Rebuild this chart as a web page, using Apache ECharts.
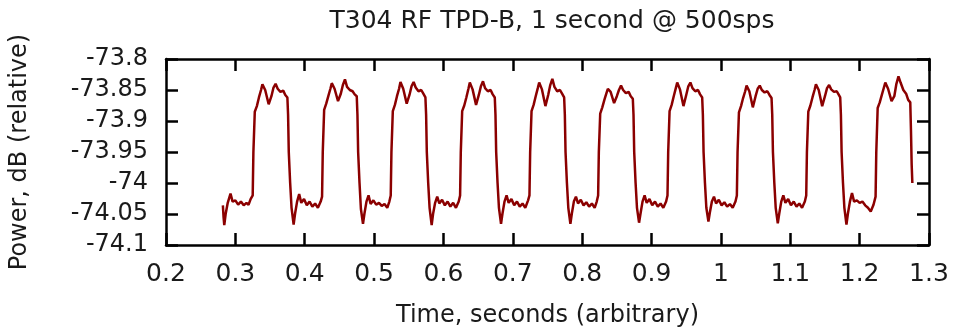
<!DOCTYPE html>
<html><head><meta charset="utf-8">
<script src="https://cdn.jsdelivr.net/npm/echarts@6/dist/echarts.min.js"></script>
<style>html,body{margin:0;padding:0;background:#fff}#c{width:956px;height:333px}</style>
</head><body><div id="c"></div>
<script>
const titleText = 'T304 RF TPD-B, 1 second @ 500sps';
const xAxisTitle = 'Time, seconds (arbitrary)';
const yAxisTitle = 'Power, dB (relative)';
const xTickLabels = ['0.2','0.3','0.4','0.5','0.6','0.7','0.8','0.9','1','1.1','1.2','1.3'];
const yTickLabels = ['-74.1','-74.05','-74','-73.95','-73.9','-73.85','-73.8'];

const sampleTime = [
0.282,0.283,0.284,0.286,0.289,0.293,0.296,0.300,0.304,0.308,0.312,0.316,0.319,0.322,0.324,
0.325,0.326,0.328,0.331,0.334,0.337,0.339,0.343,0.348,0.352,0.355,0.358,0.361,0.365,0.369,0.372,0.375,
0.376,0.377,0.379,0.381,0.384,0.386,0.389,0.392,0.395,0.399,0.403,0.407,0.411,0.415,0.419,0.423,
0.425,0.426,0.428,0.431,0.434,0.437,0.439,0.443,0.448,0.452,0.455,0.458,0.461,0.465,0.469,0.472,0.475,
0.476,0.477,0.479,0.481,0.484,0.486,0.489,0.492,0.495,0.499,0.503,0.507,0.511,0.515,0.519,0.522,
0.524,0.525,0.527,0.530,0.533,0.536,0.538,0.542,0.547,0.551,0.554,0.557,0.560,0.564,0.568,0.571,0.574,
0.575,0.576,0.578,0.580,0.583,0.585,0.588,0.591,0.594,0.598,0.602,0.606,0.610,0.614,0.618,0.622,
0.624,0.625,0.627,0.630,0.633,0.636,0.638,0.642,0.647,0.651,0.654,0.657,0.660,0.664,0.668,0.671,0.674,
0.675,0.676,0.678,0.680,0.683,0.685,0.688,0.691,0.694,0.698,0.702,0.706,0.710,0.714,0.718,0.722,
0.724,0.725,0.727,0.730,0.733,0.736,0.738,0.742,0.747,0.751,0.754,0.757,0.760,0.764,0.768,0.771,0.774,
0.775,0.776,0.778,0.780,0.783,0.785,0.788,0.791,0.794,0.798,0.802,0.806,0.810,0.814,0.818,0.821,
0.823,0.824,0.826,0.829,0.832,0.835,0.837,0.841,0.846,0.850,0.853,0.856,0.859,0.863,0.867,0.870,0.873,
0.874,0.875,0.877,0.879,0.882,0.884,0.887,0.890,0.893,0.897,0.901,0.905,0.909,0.913,0.917,0.921,
0.923,0.924,0.926,0.929,0.932,0.935,0.937,0.941,0.946,0.950,0.953,0.956,0.959,0.963,0.967,0.970,0.973,
0.974,0.975,0.977,0.979,0.982,0.984,0.987,0.990,0.993,0.997,1.001,1.005,1.009,1.013,1.017,1.021,
1.023,1.024,1.026,1.029,1.032,1.035,1.037,1.041,1.046,1.050,1.053,1.056,1.059,1.063,1.067,1.070,1.073,
1.074,1.075,1.077,1.079,1.082,1.084,1.087,1.090,1.093,1.097,1.101,1.105,1.109,1.113,1.117,1.121,
1.123,1.124,1.126,1.129,1.132,1.135,1.137,1.141,1.146,1.150,1.153,1.156,1.159,1.163,1.167,1.170,1.172,
1.173,1.174,1.176,1.178,1.181,1.183,1.186,1.189,1.192,1.196,1.200,1.204,1.208,1.212,1.216,1.220,
1.223,1.224,1.226,1.229,1.232,1.235,1.237,1.241,1.246,1.250,1.253,1.256,1.259,1.263,1.267,1.270,1.273,
1.274,1.275,1.276
];

const powerDb = [
-74.036,-74.055,-74.068,-74.05,-74.032,-74.017,-74.03,-74.028,-74.035,-74.03,-74.036,-74.032,-74.035,-74.026,-74.028,
-74.02,-73.95,-73.885,-73.876,-73.862,-73.85,-73.841,-73.85,-73.873,-73.86,-73.846,-73.84,-73.848,-73.853,-73.851,-73.858,-73.862,
-73.89,-73.95,-74.0,-74.04,-74.067,-74.05,-74.03,-74.018,-74.032,-74.026,-74.036,-74.03,-74.038,-74.033,-74.04,-74.03,
-74.022,-73.95,-73.882,-73.872,-73.86,-73.848,-73.839,-73.848,-73.868,-73.856,-73.842,-73.833,-73.845,-73.85,-73.852,-73.857,-73.86,
-73.89,-73.95,-74.0,-74.042,-74.066,-74.05,-74.03,-74.02,-74.034,-74.028,-74.035,-74.032,-74.037,-74.034,-74.04,-74.03,
-74.02,-73.95,-73.884,-73.874,-73.86,-73.848,-73.837,-73.848,-73.872,-73.858,-73.844,-73.837,-73.846,-73.852,-73.85,-73.856,-73.862,
-73.89,-73.95,-74.0,-74.04,-74.068,-74.05,-74.032,-74.022,-74.033,-74.027,-74.036,-74.03,-74.038,-74.032,-74.04,-74.03,
-74.02,-73.95,-73.884,-73.875,-73.862,-73.848,-73.838,-73.849,-73.874,-73.858,-73.844,-73.836,-73.847,-73.852,-73.85,-73.857,-73.862,
-73.89,-73.95,-74.0,-74.04,-74.066,-74.05,-74.03,-74.02,-74.032,-74.026,-74.036,-74.03,-74.038,-74.033,-74.04,-74.028,
-74.02,-73.95,-73.884,-73.874,-73.86,-73.847,-73.838,-73.849,-73.876,-73.858,-73.842,-73.832,-73.845,-73.852,-73.85,-73.856,-73.862,
-73.89,-73.95,-74.0,-74.04,-74.066,-74.05,-74.03,-74.022,-74.033,-74.027,-74.036,-74.031,-74.038,-74.033,-74.04,-74.03,
-74.02,-73.95,-73.888,-73.878,-73.866,-73.855,-73.848,-73.853,-73.871,-73.86,-73.85,-73.843,-73.85,-73.855,-73.853,-73.86,-73.864,
-73.89,-73.95,-74.0,-74.04,-74.064,-74.05,-74.03,-74.02,-74.032,-74.026,-74.036,-74.03,-74.038,-74.033,-74.04,-74.03,
-74.02,-73.95,-73.884,-73.874,-73.86,-73.847,-73.838,-73.849,-73.876,-73.858,-73.844,-73.838,-73.847,-73.852,-73.85,-73.857,-73.862,
-73.89,-73.95,-74.0,-74.04,-74.062,-74.048,-74.03,-74.022,-74.033,-74.027,-74.036,-74.031,-74.038,-74.034,-74.04,-74.03,
-74.02,-73.95,-73.886,-73.876,-73.863,-73.852,-73.843,-73.852,-73.878,-73.86,-73.848,-73.843,-73.85,-73.854,-73.852,-73.858,-73.863,
-73.89,-73.95,-74.0,-74.04,-74.065,-74.05,-74.03,-74.02,-74.032,-74.026,-74.036,-74.03,-74.038,-74.033,-74.04,-74.03,
-74.02,-73.95,-73.885,-73.875,-73.862,-73.85,-73.841,-73.85,-73.876,-73.86,-73.847,-73.842,-73.849,-73.853,-73.852,-73.858,-73.862,
-73.89,-73.95,-74.0,-74.04,-74.067,-74.05,-74.03,-74.016,-74.03,-74.028,-74.032,-74.03,-74.036,-74.04,-74.046,-74.035,
-74.022,-73.95,-73.879,-73.87,-73.858,-73.846,-73.838,-73.848,-73.868,-73.86,-73.84,-73.828,-73.838,-73.85,-73.856,-73.866,-73.87,
-73.915,-73.97,-74.0
];

const X_MIN = 0.2, X_MAX = 1.3, X_STEP = 0.1;
const Y_MIN = -74.1, Y_MAX = -73.8, Y_STEP = 0.05;
const FONT = 'DejaVu Sans';
const TXT = '#1a1a1a';

const xLabel = v => xTickLabels[Math.round((v - X_MIN) / X_STEP)] || '';
const yLabel = v => yTickLabels[Math.round((v - Y_MIN) / Y_STEP)] || '';

const lineW = 2.5;
const axisLine = { show: true, onZero: false, lineStyle: { color: '#000', width: lineW } };
const tick = { show: true, inside: true, length: 12, lineStyle: { color: '#000', width: lineW } };

const chart = echarts.init(document.getElementById('c'), null, { renderer: 'canvas' });
chart.setOption({
  animation: false,
  backgroundColor: '#fff',
  title: {
    text: titleText, left: 547, top: 4, textAlign: 'center',
    textStyle: { fontFamily: FONT, fontSize: 25, fontWeight: 'normal', color: TXT }
  },
  grid: { left: 165, right: 27, top: 59, bottom: 88, show: false },
  xAxis: [{
    type: 'value', min: X_MIN, max: X_MAX, interval: X_STEP, position: 'bottom',
    name: xAxisTitle, nameLocation: 'middle', nameGap: 59,
    nameTextStyle: { fontFamily: FONT, fontSize: 24, color: TXT },
    axisLine, axisTick: tick, splitLine: { show: false },
    axisLabel: { fontFamily: FONT, fontSize: 25, color: TXT, margin: 17, formatter: xLabel, showMinLabel: true, showMaxLabel: true, hideOverlap: false }
  }, {
    type: 'value', min: X_MIN, max: X_MAX, interval: X_STEP, position: 'top',
    axisLine, axisTick: tick, splitLine: { show: false }, axisLabel: { show: false }
  }],
  yAxis: [{
    type: 'value', min: Y_MIN, max: Y_MAX, interval: Y_STEP, position: 'left',
    name: yAxisTitle, nameLocation: 'middle', nameGap: 134,
    nameTextStyle: { fontFamily: FONT, fontSize: 24, color: TXT },
    axisLine, axisTick: tick, splitLine: { show: false },
    axisLabel: {
      fontFamily: FONT, fontSize: 24, color: TXT, margin: 18, formatter: yLabel,
      showMinLabel: true, showMaxLabel: true, hideOverlap: false
    }
  }, {
    type: 'value', min: Y_MIN, max: Y_MAX, interval: Y_STEP, position: 'right',
    axisLine, axisTick: tick, splitLine: { show: false }, axisLabel: { show: false }
  }],
  series: [{
    type: 'line',
    data: sampleTime.map((t, i) => [t, powerDb[i]]),
    showSymbol: false, symbol: 'none',
    lineStyle: { color: '#8b0000', width: 2.5 },
    clip: true
  }]
});
</script></body></html>
